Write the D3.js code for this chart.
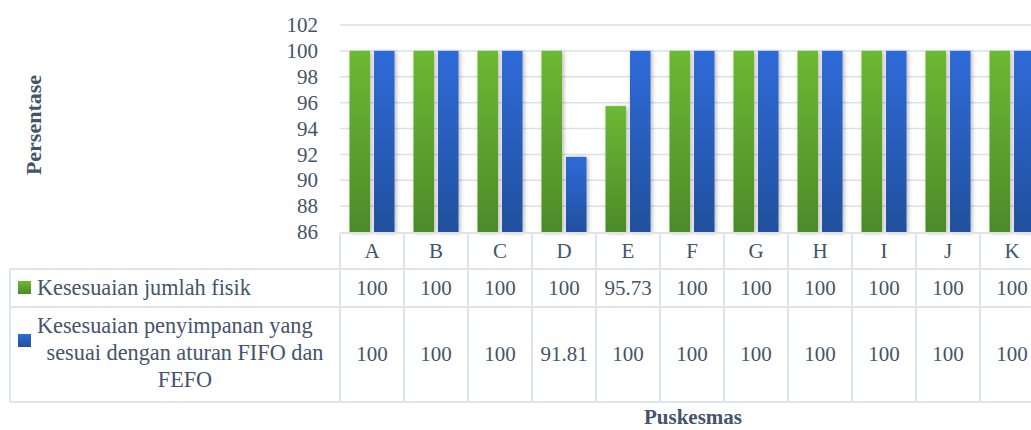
<!DOCTYPE html>
<html><head><meta charset="utf-8">
<script src="https://cdn.jsdelivr.net/npm/d3@7"></script>
<style>
html,body{margin:0;padding:0;background:#fff;overflow:hidden;}
svg text{font-family:"Liberation Serif","Times New Roman",serif;fill:#44546a;}
</style></head>
<body>
<svg id="chart" width="1031" height="430"></svg>
<script>
const categories = ["A","B","C","D","E","F","G","H","I","J","K"];
const seriesNames = ["Kesesuaian jumlah fisik","Kesesuaian penyimpanan yang sesuai dengan aturan FIFO dan FEFO"];
const seriesFisik = [100,100,100,100,95.73,100,100,100,100,100,100];
const seriesFifo  = [100,100,100,91.81,100,100,100,100,100,100,100];
const seriesLabels = [["100","100","100","100","95.73","100","100","100","100","100","100"],
                      ["100","100","100","91.81","100","100","100","100","100","100","100"]];
const yTicks = [86,88,90,92,94,96,98,100,102];
const legendLines = [["Kesesuaian jumlah fisik"],["Kesesuaian penyimpanan yang","sesuai dengan aturan FIFO dan","FEFO"]];
const yTitle = "Persentase";
const xTitle = "Puskesmas";

const svg = d3.select("#chart");
const defs = svg.append("defs");
const grads = [["gGreen","#6cb934","#4d8a29"],["gBlue","#2f6bd8","#21509d"]];
grads.forEach(([id,c1,c2])=>{
  const g = defs.append("linearGradient").attr("id",id).attr("x1",0).attr("y1",0).attr("x2",0).attr("y2",1);
  g.append("stop").attr("offset","0%").attr("stop-color",c1);
  g.append("stop").attr("offset","100%").attr("stop-color",c2);
});
const f = defs.append("filter").attr("id","shadow").attr("x","-50%").attr("y","-10%").attr("width","200%").attr("height","120%");
f.append("feDropShadow").attr("dx",1.5).attr("dy",1).attr("stdDeviation",2).attr("flood-color","#000").attr("flood-opacity",0.3);

const x = d3.scaleBand().domain(categories).range([340,1044]).padding(0);
const x1 = d3.scaleBand().domain([0,1]).range([0,x.bandwidth()]).paddingInner(0.163).paddingOuter(0.388);
const y = d3.scaleLinear().domain([86,102]).range([232,25]);

// grid
svg.append("g").selectAll("line").data(yTicks.filter(t=>t>86)).join("line")
  .attr("x1",340).attr("x2",1044).attr("y1",d=>y(d)).attr("y2",d=>y(d))
  .attr("stroke","#dde1e7").attr("stroke-width",1.5);

// y axis labels
const yAxis = d3.axisLeft(y).tickValues(yTicks).tickSize(0).tickPadding(22);
const ya = svg.append("g").attr("transform","translate(340,0)").call(yAxis);
ya.select(".domain").remove();
ya.selectAll("text").style("font-size","21px").attr("fill","#44546a").style("font-family","Liberation Serif");

// bars
const data = [seriesFisik, seriesFifo];
data.forEach((vals,si)=>{
  svg.append("g").selectAll("rect").data(vals).join("rect")
    .attr("x",(d,i)=>x(categories[i])+x1(si))
    .attr("width",x1.bandwidth())
    .attr("y",d=>y(d))
    .attr("height",d=>y(86)-y(d))
    .attr("fill",`url(#${grads[si][0]})`)
    .attr("filter","url(#shadow)");
});

// data table
const rowY = [233,269,307,402];
const tcol = "#dfe3ea";
const tbl = svg.append("g");
tbl.append("line").attr("x1",340).attr("x2",1044).attr("y1",rowY[0]).attr("y2",rowY[0]).attr("stroke",tcol).attr("stroke-width",2);
[rowY[1],rowY[2],rowY[3]].forEach(yy=>tbl.append("line").attr("x1",10).attr("x2",1044).attr("y1",yy).attr("y2",yy).attr("stroke",tcol).attr("stroke-width",2));
tbl.append("line").attr("x1",10).attr("x2",10).attr("y1",rowY[1]).attr("y2",rowY[3]).attr("stroke",tcol).attr("stroke-width",2);
tbl.selectAll("line.v").data(categories.concat(["_end"])).join("line").attr("class","v")
  .attr("x1",(d,i)=>340+i*x.bandwidth()).attr("x2",(d,i)=>340+i*x.bandwidth())
  .attr("y1",rowY[0]).attr("y2",rowY[3]).attr("stroke",tcol).attr("stroke-width",2);

// category labels
tbl.selectAll("text.cat").data(categories).join("text").attr("class","cat")
  .attr("x",d=>x(d)+x.bandwidth()/2).attr("y",258).attr("text-anchor","middle")
  .style("font-size","21px").text(d=>d);
const valY = [295,361];
seriesLabels.forEach((labs,si)=>{
  tbl.append("g").selectAll("text").data(labs).join("text")
    .attr("x",(d,i)=>x(categories[i])+x.bandwidth()/2).attr("y",valY[si]).attr("text-anchor","middle")
    .style("font-size","21px").text(d=>d);
});
// legend keys
[[281,0],[334,1]].forEach(([yy,si])=>{
  tbl.append("rect").attr("x",18).attr("y",yy).attr("width",13).attr("height",13).attr("fill",`url(#${grads[si][0]})`);
});
const t1 = tbl.append("text").attr("x",37).attr("y",295).style("font-size","21px").text(legendLines[0][0]);
const l2 = tbl.append("text").style("font-size","21px");
l2.append("tspan").attr("x",37).attr("y",333).text(legendLines[1][0]);
l2.append("tspan").attr("x",185).attr("y",360).attr("text-anchor","middle").text(legendLines[1][1]);
l2.append("tspan").attr("x",185).attr("y",387).attr("text-anchor","middle").text(legendLines[1][2]);
const w = l2.node().getBBox().width;
const fs = Math.min(23, 21*296/w);
t1.style("font-size",fs+"px"); l2.style("font-size",fs+"px");

// axis titles
const yt = svg.append("text").attr("transform","translate(41,125) rotate(-90)").attr("text-anchor","middle")
  .style("font-size","20px").style("font-weight","bold").text(yTitle);
const xt = svg.append("text").attr("x",693).attr("y",424).attr("text-anchor","middle")
  .style("font-size","20px").style("font-weight","bold").text(xTitle);
const yw = yt.node().getComputedTextLength(); yt.style("font-size",Math.min(22,20*104/yw)+"px");
const xw = xt.node().getComputedTextLength(); xt.style("font-size",Math.min(21,20*108/xw)+"px");
</script>
</body></html>
